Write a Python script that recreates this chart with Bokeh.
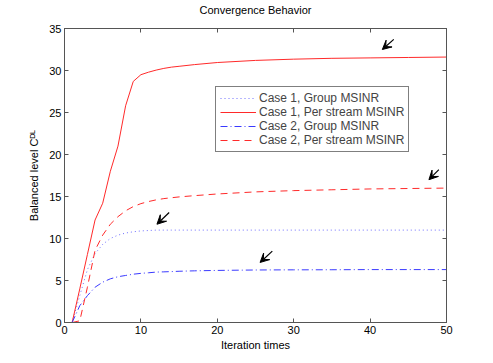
from bokeh.plotting import figure
from bokeh.models import Range1d, LinearAxis, FixedTicker, Arrow, VeeHead
from bokeh.embed import file_html
from bokeh.resources import INLINE

# ---- data ----
iterations = [1, 2, 3, 4, 5, 6, 7, 8, 9, 10, 11, 12, 13, 14, 15, 17, 20, 25, 30, 35, 40, 45, 50]
case1_group = [0, 3.2, 6.3, 8.2, 9.3, 10.0, 10.4, 10.65, 10.8, 10.9, 10.95, 11.0, 11.0, 11.0,
               11.0, 11.0, 11.0, 11.0, 11.0, 11.0, 11.0, 11.0, 11.0]
case1_per = [0, 4.0, 8.1, 12.2, 14.2, 18.0, 21.0, 25.8, 28.7, 29.5, 29.8, 30.05, 30.25, 30.4,
             30.5, 30.7, 30.95, 31.2, 31.35, 31.45, 31.5, 31.55, 31.6]
case2_group = [0, 2.0, 3.2, 4.2, 4.8, 5.2, 5.45, 5.6, 5.75, 5.85, 5.92, 6.0, 6.03, 6.06,
               6.1, 6.15, 6.2, 6.25, 6.27, 6.28, 6.3, 6.3, 6.3]
case2_per = [0, 0.2, 4.2, 8.6, 10.4, 11.7, 12.6, 13.3, 13.8, 14.15, 14.4, 14.6, 14.75, 14.85,
             14.95, 15.1, 15.3, 15.55, 15.7, 15.8, 15.9, 15.95, 16.0]
series_names = ["Case 1, Group MSINR", "Case 1, Per stream MSINR",
                "Case 2, Group MSINR", "Case 2, Per stream MSINR"]
x_ticks = [0, 10, 20, 30, 40, 50]
y_ticks = [0, 5, 10, 15, 20, 25, 30, 35]
# arrows: (x_start, y_start, x_end, y_end)
arrows = [(43.1, 33.7, 41.6, 32.5), (49.0, 18.2, 47.7, 17.0),
          (13.7, 13.1, 12.1, 11.7), (27.2, 8.5, 25.6, 7.15)]

FONT = "Liberation Sans"
AX = "#555555"

p = figure(width=485, height=355, output_backend="svg", toolbar_location=None,
           x_range=Range1d(0, 50), y_range=Range1d(0, 35),
           min_border_left=64, min_border_right=39, min_border_top=27, min_border_bottom=33)

p.xgrid.visible = False
p.ygrid.visible = False
p.outline_line_color = AX
p.background_fill_color = "white"
p.border_fill_color = "white"

def style_axis(ax, ticks, labels=True):
    ax.ticker = FixedTicker(ticks=ticks)
    ax.major_tick_in = 4
    ax.major_tick_out = 0
    ax.minor_tick_line_color = None
    ax.axis_line_color = AX
    ax.major_tick_line_color = AX
    ax.major_label_text_font = FONT
    ax.major_label_text_font_size = "11px"
    ax.major_label_text_color = "black" if labels else None
    ax.major_label_standoff = 3 if labels else 0
    ax.axis_label_text_font = FONT
    ax.axis_label_text_font_size = "11px"
    ax.axis_label_text_font_style = "normal"
    ax.axis_label_text_color = "black"

style_axis(p.xaxis[0], x_ticks)
style_axis(p.yaxis[0], y_ticks)
p.xaxis.axis_label = "Iteration times"
p.xaxis.axis_label_standoff = 2
p.yaxis.axis_label = "Balanced level C\u1d30\u1d38"
p.yaxis.axis_label_standoff = 6

top_ax = LinearAxis()
style_axis(top_ax, x_ticks, labels=False)
top_ax.axis_label = "Convergence Behavior"
top_ax.axis_label_standoff = 13
p.add_layout(top_ax, "above")
right_ax = LinearAxis()
style_axis(right_ax, y_ticks, labels=False)
p.add_layout(right_ax, "right")

p.line(iterations, case1_group, line_color="#6f6fff", line_width=1, line_dash="1 3",
       legend_label=series_names[0])
p.line(iterations, case1_per, line_color="#ff2a2a", line_width=1,
       legend_label=series_names[1])
p.line(iterations, case2_group, line_color="#3a3aff", line_width=1, line_dash="7 3 1 3",
       legend_label=series_names[2])
p.line(iterations, case2_per, line_color="#ff2a2a", line_width=1, line_dash="7 5",
       legend_label=series_names[3])

lg = p.legend[0]
lg.location = (151, 170)
lg.label_text_font = FONT
lg.label_text_font_size = "12px"
lg.label_height = 14
lg.glyph_height = 14
lg.glyph_width = 36
lg.spacing = 0
lg.padding = 4
lg.label_standoff = 3
lg.margin = 0
lg.border_line_color = "black"
lg.background_fill_alpha = 1

for xs, ys, xe, ye in arrows:
    p.add_layout(Arrow(x_start=xs, y_start=ys, x_end=xe, y_end=ye, line_color="black",
                       line_width=1.2,
                       end=VeeHead(size=9, fill_color="black", line_color="black")))

open("out.html", "w").write(file_html(p, INLINE))
